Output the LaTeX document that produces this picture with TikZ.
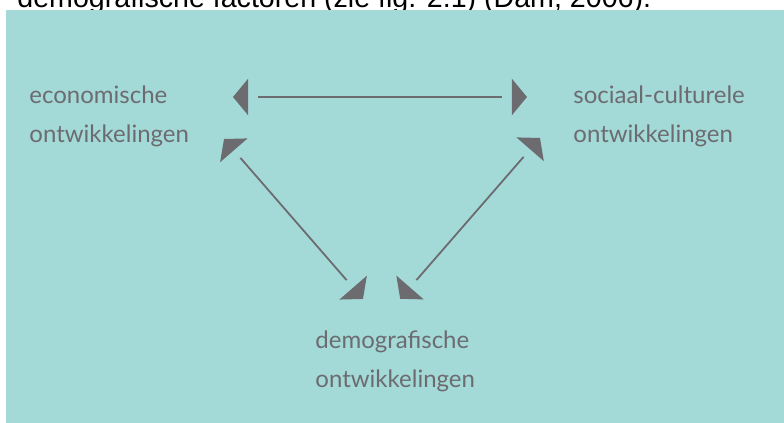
\documentclass[tikz,border=0pt]{standalone}
\usepackage{fontspec}
\setmainfont{Lato}
\newfontfamily\capfont{Liberation Sans}
\usetikzlibrary{arrows.meta,positioning,decorations.markings}
\definecolor{panel}{RGB}{163,217,215}
\definecolor{inkgrey}{RGB}{108,108,112}

\begin{document}
\begin{tikzpicture}[x=0.5pt,y=-0.5pt,
		concept/.style={align=left, inner sep=0pt, text=inkgrey, font=\fontsize{12}{19.5}\selectfont},
		link/.style={draw=inkgrey, line width=0.9pt, shorten <=12.5pt, shorten >=12.5pt,
			postaction={decorate, decoration={markings,
				mark=at position 0 with {\arrowreversed[fill=inkgrey]{Triangle[width=18pt,length=7.5pt]}},
				mark=at position 0.9999 with {\arrow[fill=inkgrey]{Triangle[width=18pt,length=7.5pt]}}}}}
		]
	\useasboundingbox (0,0) rectangle (784,423);

	% --- bijschrift boven (afgesneden) ---
	\node[anchor=base west, inner sep=0pt, font=\capfont\fontsize{14.3}{17}\selectfont] (caption) at (17,7) {demografische factoren (zie fig. 2.1) (Dam, 2006).};
	\fill[panel] (6,10) rectangle (784,423);

	% --- begrippen (anker = basislijn van de tweede regel) ---
	\node[concept, anchor=base west] (eco) at (29,142) {economische\\ontwikkelingen};
	\node[concept, anchor=base west] (soc) at (573,142) {sociaal-culturele\\ontwikkelingen};
	\node[concept, anchor=base west] (dem) at (315,387) {demografische\\ontwikkelingen};

	% punten van de pijlen
	\coordinate (eco-e) at (233,97);
	\coordinate (soc-w) at (527,97);
	\coordinate (eco-s) at (224,139);
	\coordinate (dem-nw) at (363,299);
	\coordinate (soc-s) at (540,138);
	\coordinate (dem-ne) at (400,299);

	% wisselwerking
	\draw[link] (eco-e) -- (soc-w);
	\draw[link] (eco-s) -- (dem-nw);
	\draw[link] (soc-s) -- (dem-ne);

\end{tikzpicture}
\end{document}
